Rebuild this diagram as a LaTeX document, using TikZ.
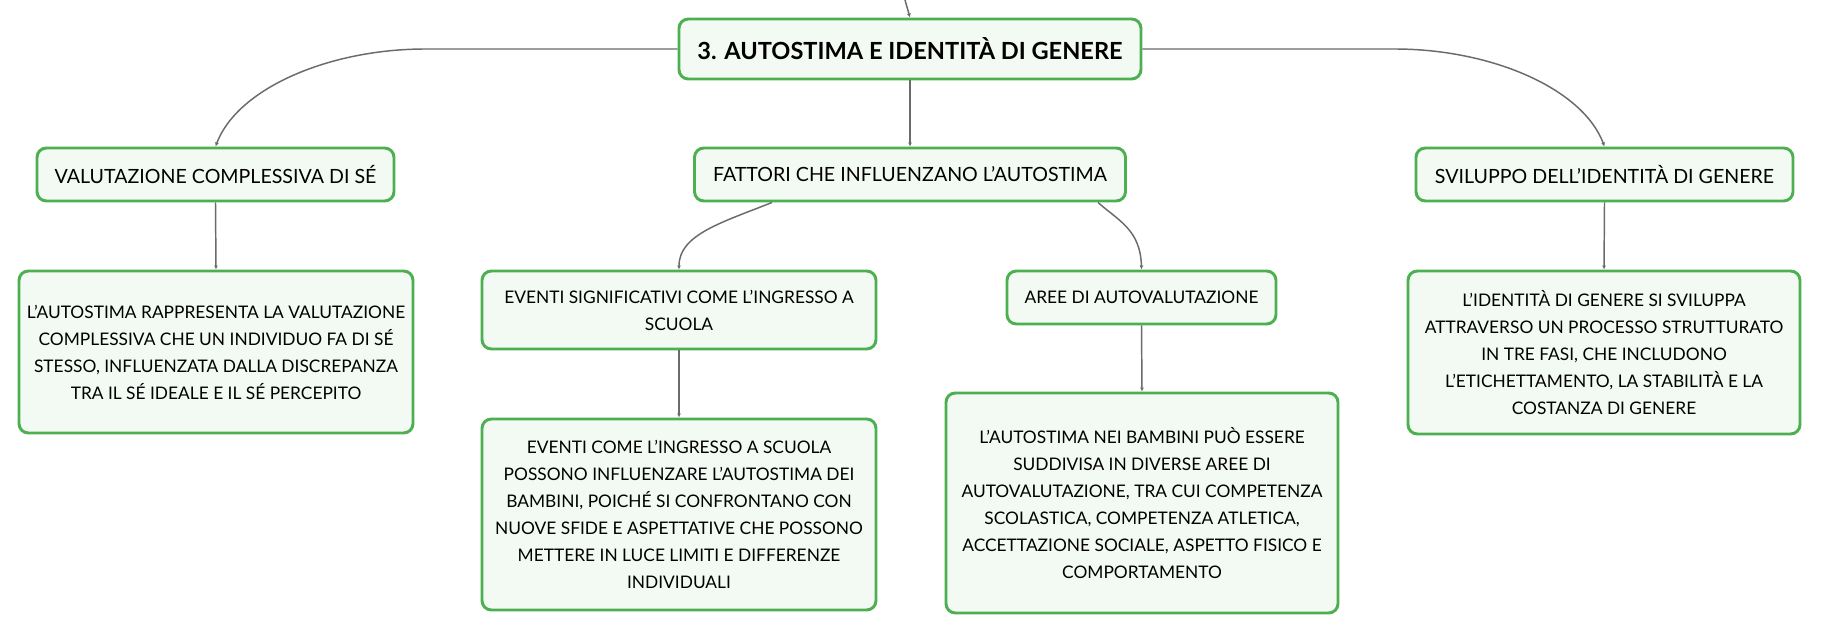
\documentclass[tikz,border=0pt]{standalone}
\usepackage{fontspec}
\setmainfont{Lato}
\usetikzlibrary{arrows.meta}
\definecolor{boxgreen}{HTML}{4CAF50}
\definecolor{boxfill}{HTML}{F3FAF4}
\definecolor{linegray}{HTML}{6B6B6B}
\tikzset{
  mapbox/.style={draw=boxgreen, line width=2.2pt, fill=boxfill, rounded corners=7pt,
    align=center, inner sep=0pt, font=\fontsize{14.7pt}{20.25pt}\selectfont, text=black},
  textbox/.style={mapbox, font=\fontsize{13pt}{20.25pt}\selectfont},
  rootbox/.style={mapbox, font=\fontsize{17.7pt}{21pt}\selectfont\bfseries},
  link/.style={draw=linegray, line width=1.1pt, -{Latex[length=3pt,width=3pt]}},
}
\begin{document}
\begin{tikzpicture}[x=0.75pt, y=-0.75pt]
\useasboundingbox[fill=white] (0,0) rectangle (1821,634);
% nodes
\node[rootbox, minimum width=462*0.75pt, minimum height=60*0.75pt] (root) at (910,49) {3. AUTOSTIMA E IDENTITÀ DI GENERE};
\coordinate (top) at (905,0);
\node[mapbox, minimum width=357*0.75pt, minimum height=53*0.75pt] (val) at (215.5,174.5) {VALUTAZIONE COMPLESSIVA DI SÉ};
\node[mapbox, minimum width=431*0.75pt, minimum height=53*0.75pt] (fatt) at (910,174.5) {FATTORI CHE INFLUENZANO L’AUTOSTIMA};
\node[mapbox, minimum width=377*0.75pt, minimum height=53*0.75pt] (svil) at (1604.5,174.5) {SVILUPPO DELL'IDENTITÀ DI GENERE};
\node[textbox, minimum width=394*0.75pt, minimum height=162*0.75pt] (valc) at (216,352) {L’AUTOSTIMA RAPPRESENTA LA VALUTAZIONE\\COMPLESSIVA CHE UN INDIVIDUO FA DI SÉ\\STESSO, INFLUENZATA DALLA DISCREPANZA\\TRA IL SÉ IDEALE E IL SÉ PERCEPITO};
\node[textbox, minimum width=394*0.75pt, minimum height=78*0.75pt] (ev) at (679,310) {EVENTI SIGNIFICATIVI COME L’INGRESSO A\\SCUOLA};
\node[textbox, minimum width=394*0.75pt, minimum height=191*0.75pt] (evc) at (679,514.5) {EVENTI COME L’INGRESSO A SCUOLA\\POSSONO INFLUENZARE L’AUTOSTIMA DEI\\BAMBINI, POICHÉ SI CONFRONTANO CON\\NUOVE SFIDE E ASPETTATIVE CHE POSSONO\\METTERE IN LUCE LIMITI E DIFFERENZE\\INDIVIDUALI};
\node[textbox, minimum width=269*0.75pt, minimum height=53*0.75pt] (aree) at (1141.5,297.5) {AREE DI AUTOVALUTAZIONE};
\node[textbox, minimum width=392*0.75pt, minimum height=220*0.75pt] (areec) at (1142,503) {L’AUTOSTIMA NEI BAMBINI PUÒ ESSERE\\SUDDIVISA IN DIVERSE AREE DI\\AUTOVALUTAZIONE, TRA CUI COMPETENZA\\SCOLASTICA, COMPETENZA ATLETICA,\\ACCETTAZIONE SOCIALE, ASPETTO FISICO E\\COMPORTAMENTO};
\node[textbox, minimum width=392*0.75pt, minimum height=163*0.75pt] (svilc) at (1604,352.5) {L’IDENTITÀ DI GENERE SI SVILUPPA\\ATTRAVERSO UN PROCESSO STRUTTURATO\\IN TRE FASI, CHE INCLUDONO\\L’ETICHETTAMENTO, LA STABILITÀ E LA\\COSTANZA DI GENERE};
% connectors
\draw[link] (top) -- (root.north);
\draw[link] (root.west) -- ++(-252,0) .. controls +(-97,0) and +(22,-58) .. (val.north);
\draw[link] (root.east) -- ++(252,0) .. controls +(97,0) and +(-22,-58) .. (svil.north);
\draw[link] (root.south) -- (fatt.north);
\draw[link] ([xshift=-138*0.75pt]fatt.south) .. controls +(-50,20) and +(0,-35) .. (ev.north);
\draw[link] ([xshift=188*0.75pt]fatt.south) .. controls +(20,18) and +(-1,-40) .. (aree.north);
\draw[link] (val.south) -- (valc.north);
\draw[link] (ev.south) -- (evc.north);
\draw[link] (aree.south) -- (areec.north);
\draw[link] (svil.south) -- (svilc.north);
\end{tikzpicture}
\end{document}
